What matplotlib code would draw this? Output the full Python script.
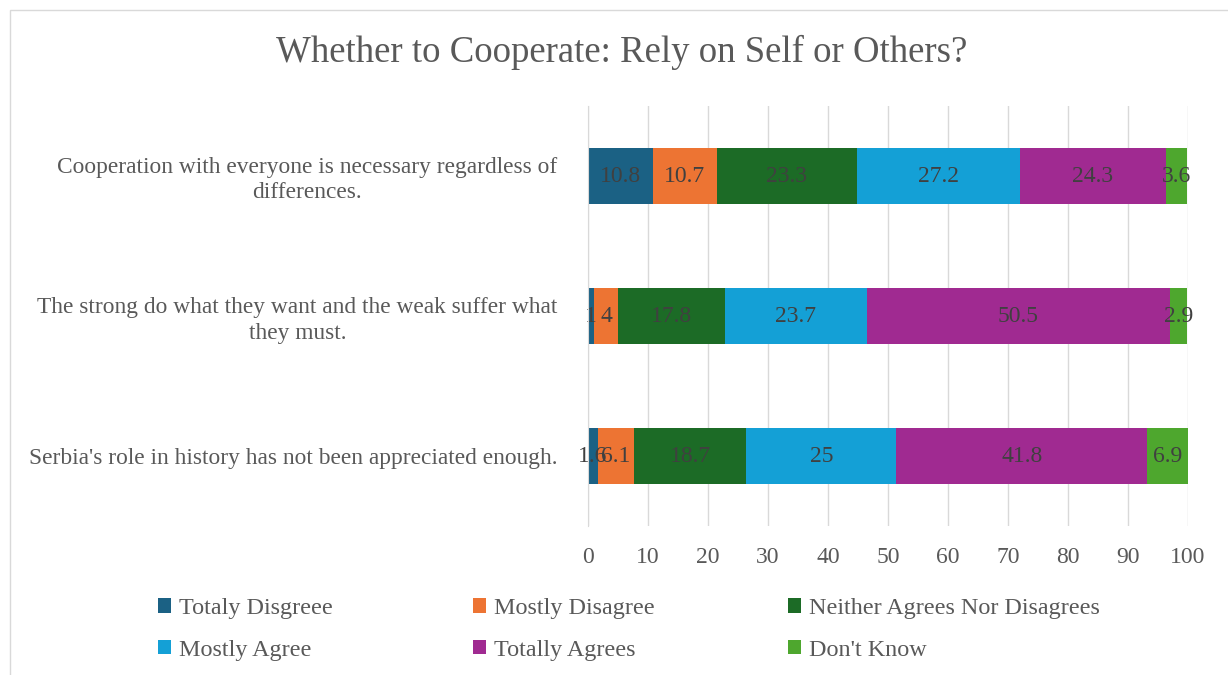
import matplotlib.pyplot as plt
from matplotlib.patches import Patch, Rectangle
import numpy as np

# 数据
statements = ["Cooperation with everyone is necessary regardless of\ndifferences.",
              "The strong do what they want and the weak suffer what\nthey must.",
              "Serbia's role in history has not been appreciated enough."]
series = ["Totaly Disgreee", "Mostly Disagree", "Neither Agrees Nor Disagrees",
          "Mostly Agree", "Totally Agrees", "Don't Know"]
totaly_disagree = [10.8, 1, 1.6]
mostly_disagree = [10.7, 4, 6.1]
neither = [23.3, 17.8, 18.7]
mostly_agree = [27.2, 23.7, 25]
totally_agrees = [24.3, 50.5, 41.8]
dont_know = [3.6, 2.9, 6.9]
xticks = [0, 10, 20, 30, 40, 50, 60, 70, 80, 90, 100]

colors = ['#1b6184', '#ed7433', '#1c6b26', '#14a0d6', '#a02a91', '#4ea72e']
values = [totaly_disagree, mostly_disagree, neither, mostly_agree, totally_agrees, dont_know]

plt.rcParams['font.family'] = ['Liberation Serif', 'DejaVu Serif']
gray = '#595959'

W, H = 1228, 675
fig = plt.figure(figsize=(W / 100, H / 100), dpi=100)

# 外框
fig.patches.append(Rectangle((10 / W, -0.01), 1.0, 1 - 10 / H + 0.01, transform=fig.transFigure,
                             fill=False, edgecolor='#d9d9d9', linewidth=1.0))

ax = fig.add_axes([588 / W, 1 - 526 / H, 600 / W, 420 / H])
y = np.arange(len(statements))
left = np.zeros(len(statements))
for vals, name, c in zip(values, series, colors):
    ax.barh(y, vals, height=0.4, left=left, color=c, label=name, zorder=3)
    for yi, l, v in zip(y, left, vals):
        ax.text(l + v / 2, yi, f"{v:g}", ha='center', va='center', fontsize=17,
                color='#404040', zorder=4)
    left = left + np.array(vals)

ax.set_ylim(2.5, -0.5)
ax.set_xlim(0, 100)
ax.set_xticks(xticks)
ax.set_xticklabels([str(t) for t in xticks], fontsize=17, color=gray)
ax.set_yticks(y)
ax.set_yticklabels(statements, fontsize=16.8, color=gray, multialignment='center', linespacing=1.25)
ax.tick_params(axis='both', length=0)
ax.tick_params(axis='x', pad=15)
ax.tick_params(axis='y', pad=22)
ax.xaxis.grid(True, color='#d9d9d9', linewidth=1.0, zorder=0)
ax.set_axisbelow(True)
for s in ['top', 'right', 'bottom']:
    ax.spines[s].set_visible(False)
ax.spines['left'].set_color('#d9d9d9')
ax.spines['left'].set_zorder(5)

fig.text(622 / W, 1 - 52 / H, "Whether to Cooperate: Rely on Self or Others?", ha='center', va='center',
         fontsize=26.5, color=gray)

# 图例，三列
cols = [(0, 3), (1, 4), (2, 5)]
xpos = [158, 473, 788]
for (a, b), xp in zip(cols, xpos):
    handles = [Patch(facecolor=colors[a]), Patch(facecolor=colors[b])]
    fig.legend(handles, [series[a], series[b]], loc='upper left',
               bbox_to_anchor=(xp / W, 1 - 598 / H), frameon=False, fontsize=17.4,
               labelcolor=gray, handlelength=0.55, handleheight=0.55, handletextpad=0.3,
               labelspacing=0.85, borderaxespad=0, borderpad=0)

fig.savefig("out.png", dpi=100)
